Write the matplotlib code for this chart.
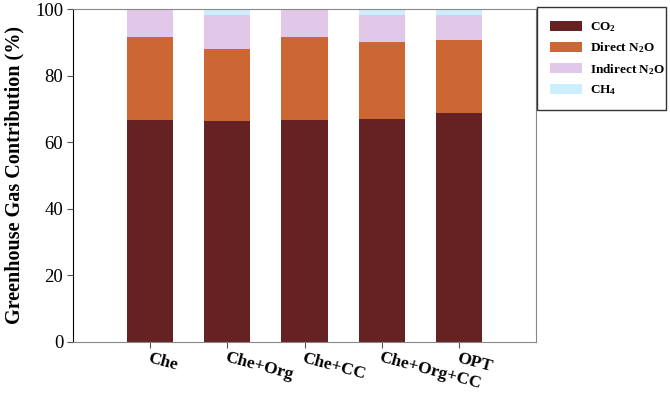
import matplotlib
matplotlib.use("Agg")
import matplotlib.pyplot as plt
import numpy as np

categories = ["Che", "Che+Org", "Che+CC", "Che+Org+CC", "OPT"]
co2 = [66.7, 66.2, 66.5, 67.0, 68.6]
direct_n2o = [25.0, 21.7, 25.0, 23.1, 22.0]
indirect_n2o = [8.2, 10.3, 8.4, 8.1, 7.6]
ch4 = [0.1, 1.8, 0.1, 1.8, 1.8]
series_labels = ["CO$_2$", "Direct N$_2$O", "Indirect N$_2$O", "CH$_4$"]
colors = ["#662222", "#CC6633", "#E2C8E8", "#CCEEFF"]
yticks = [0, 20, 40, 60, 80, 100]

plt.rcParams['font.family'] = ['Liberation Serif', 'DejaVu Serif']
plt.rcParams['mathtext.default'] = 'regular'

fig = plt.figure(figsize=(6.7, 3.94), dpi=100)
ax = fig.add_axes([73/670, 1-341.7/394, (536-73)/670, (341.7-9)/394])

x = np.arange(len(categories))
bottom = np.zeros(len(categories))
handles = []
for vals, lab, col in zip([co2, direct_n2o, indirect_n2o, ch4], series_labels, colors):
    b = ax.bar(x, vals, width=0.6, bottom=bottom, color=col, label=lab, edgecolor='none')
    handles.append(b)
    bottom += np.array(vals)

ax.set_xlim(-1, 5)
ax.set_ylim(0, 100)
ax.set_yticks(yticks)
ax.tick_params(axis='y', labelsize=13.5, direction='out', length=4, color='#555555', pad=3)
ax.tick_params(axis='x', labelsize=12.5, direction='out', length=4, color='#555555', pad=2)
ax.set_xticks(x)
ax.set_xticklabels(categories, rotation=-15, ha='left', rotation_mode='anchor', fontweight='bold')
for sp in ['top', 'right', 'bottom']:
    ax.spines[sp].set_color('#888888')
ax.spines['left'].set_color('black')
ax.set_ylabel("Greenhouse Gas Contribution (%)", fontsize=14.5, fontweight='bold', labelpad=8)

leg = fig.legend(handles=handles, labels=series_labels, loc='upper left',
                 bbox_to_anchor=(537/670, 1-110/394, 129/670, 103/394), mode='expand',
                 frameon=True, fancybox=False,
                 edgecolor='black', prop={'size': 9.5, 'weight': 'bold'},
                 handlelength=2.4, handleheight=0.8, handletextpad=0.6,
                 borderpad=1.0, labelspacing=0.5, borderaxespad=0)
leg.get_frame().set_linewidth(1.0)

fig.savefig("out.png", dpi=100)
